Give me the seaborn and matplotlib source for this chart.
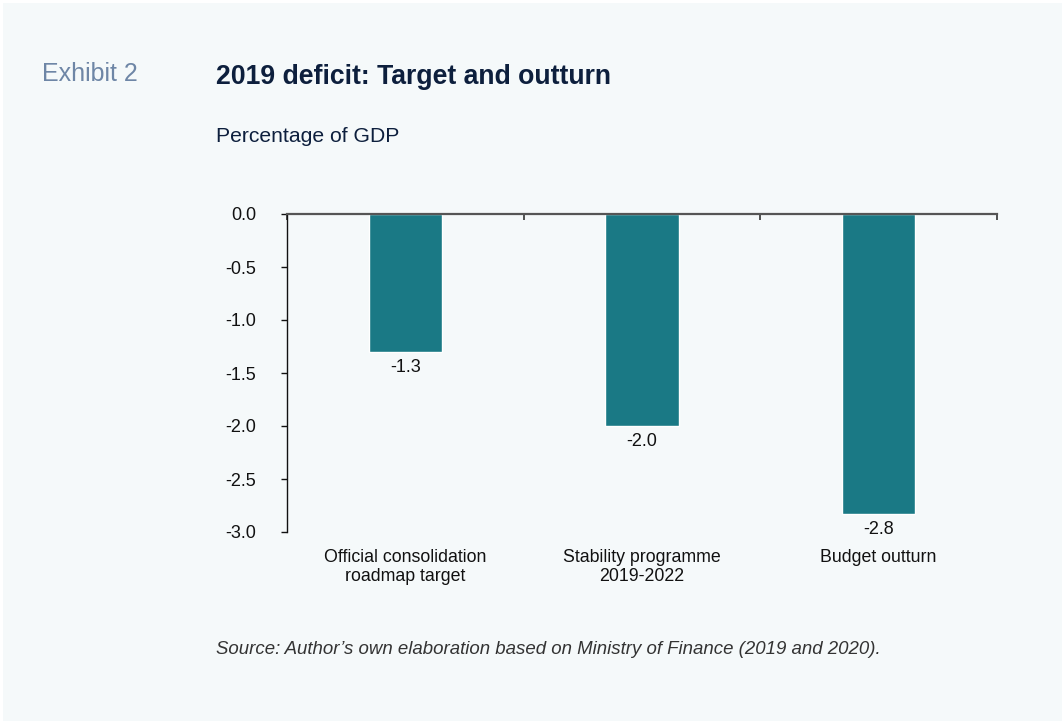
import matplotlib
matplotlib.use("Agg")
import matplotlib.pyplot as plt
from matplotlib.patches import Rectangle
import seaborn as sns
import pandas as pd

# Data: 2019 general government deficit, % of GDP
categories = ["Official consolidation\nroadmap target",
              "Stability programme\n2019-2022",
              "Budget outturn"]
deficit = [-1.30, -2.00, -2.83]
y_ticks = [0.0, -0.5, -1.0, -1.5, -2.0, -2.5, -3.0]

BAR = "#1a7985"
NAVY = "#0d1f3d"
PANEL = "#f5f9fa"

sns.set_theme(style="white")
plt.rcParams["font.family"] = ["Liberation Sans", "DejaVu Sans"]

fig = plt.figure(figsize=(10.62, 7.21), dpi=100, facecolor="white")
fig.patches.append(Rectangle((3 / 1062, 0), 1, 1 - 3 / 721,
                             transform=fig.transFigure, facecolor=PANEL,
                             edgecolor="none", zorder=-10))

ax = fig.add_axes([287 / 1062, 1 - 532 / 721, 710 / 1062, 318 / 721])
ax.set_facecolor(PANEL)

df = pd.DataFrame({"category": categories, "value": deficit})
sns.barplot(data=df, x="category", y="value", color=BAR, width=0.31,
            saturation=1, ax=ax)

ax.bar_label(ax.containers[0], fmt="%.1f", padding=5, fontsize=13,
             color="#111111")

ax.set_ylim(-3.0, 0.0)
ax.set_xlim(-0.5, 2.5)
ax.set_yticks(y_ticks)
ax.set_yticklabels([f"{v:.1f}" for v in y_ticks])
ax.set_xlabel("")
ax.set_ylabel("")

for side in ("right", "bottom"):
    ax.spines[side].set_visible(False)
ax.spines["left"].set_color("#111111")
ax.spines["left"].set_linewidth(1.0)
ax.spines["top"].set_color("#555555")
ax.spines["top"].set_linewidth(1.6)
ax.spines["top"].set_zorder(5)

ax.tick_params(axis="y", which="major", left=True, length=4, width=1,
               color="#111111", pad=18, labelsize=13, labelcolor="#111111")
ax.tick_params(axis="x", which="major", bottom=False, pad=6,
               labelsize=12.75, labelcolor="#111111")
for lbl in ax.get_xticklabels():
    lbl.set_linespacing(1.15)
# category separators on the zero line
ax.set_xticks([-0.5, 0.5, 1.5, 2.5], minor=True)
ax.tick_params(axis="x", which="minor", top=True, bottom=False,
               direction="in", length=4, width=1.2, color="#333333")

fig.text(42 / 1062, 1 - 74 / 721, "Exhibit 2", fontsize=18,
         color="#6e86a6", va="center", ha="left")
fig.text(216 / 1062, 1 - 77 / 721, "2019 deficit: Target and outturn",
         fontsize=19.2, fontweight="bold", color=NAVY, va="center", ha="left")
fig.text(216 / 1062, 1 - 136 / 721, "Percentage of GDP", fontsize=15.2,
         color=NAVY, va="center", ha="left")
fig.text(216 / 1062, 1 - 650 / 721,
         "Source: Author\u2019s own elaboration based on Ministry of Finance (2019 and 2020).",
         fontsize=13.4, style="italic", color="#333333", va="center", ha="left")

fig.savefig("out.png", dpi=100, facecolor="white")
